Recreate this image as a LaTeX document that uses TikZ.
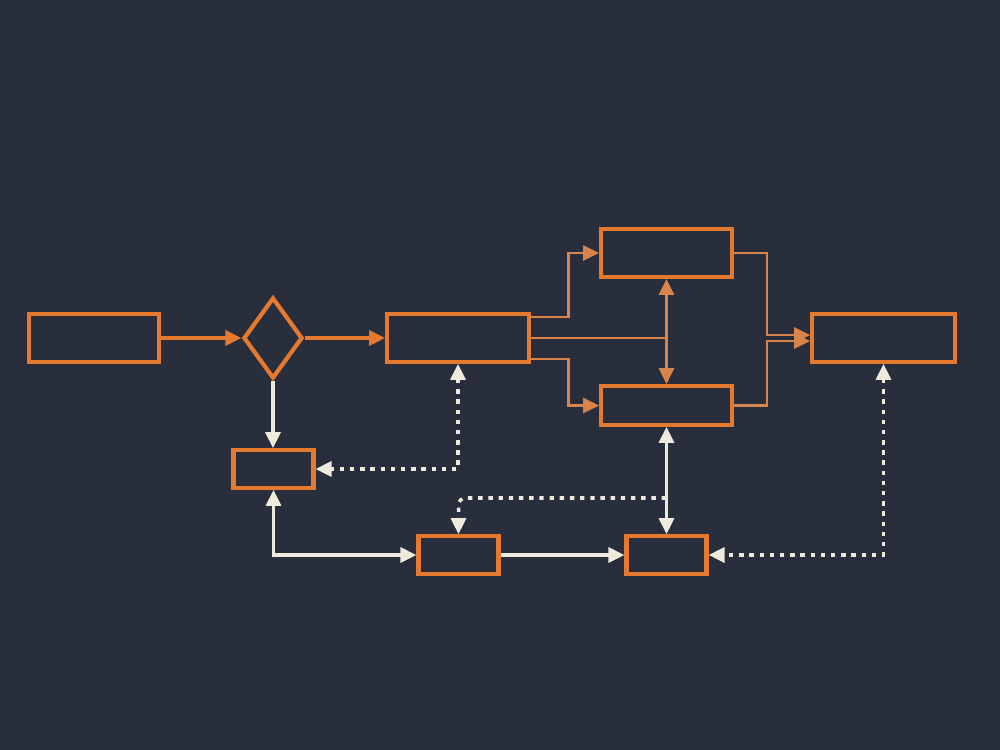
\documentclass[tikz,border=0pt]{standalone}
\usepackage{tikz}
\usetikzlibrary{arrows.meta,positioning,shapes.geometric,calc}

\definecolor{bgnavy}{HTML}{282E3C}
\definecolor{boxorange}{HTML}{E57A2E}
\definecolor{linkorange}{HTML}{D9844A}
\definecolor{linkcream}{HTML}{EEEBDC}

\begin{document}
\begin{tikzpicture}[
  x=0.02cm, y=-0.02cm,
  >={Triangle[length=3.2mm,width=3mm]},
  boxnode/.style={draw=boxorange,line width=2.4pt,minimum height=0.95cm,inner sep=0pt},
  smallbox/.style={boxnode,minimum width=1.6cm,minimum height=0.75cm},
  decnode/.style={draw=boxorange,diamond,line width=2.4pt,minimum width=1.18cm,minimum height=1.62cm,inner sep=0pt},
  orangelink/.style={draw=boxorange,line width=2pt},
  thinlink/.style={draw=linkorange,line width=1.6pt},
  creamlink/.style={draw=linkcream,line width=1.8pt},
  dotlink/.style={draw=linkcream,line width=2pt,dash pattern=on 2.5pt off 3.3pt}
]

\fill[bgnavy] (0,0) rectangle (1000,750);

% ---- main row ----
\node[boxnode,minimum width=2.59cm] (start) at (94,338) {};
\node[decnode] (choice) at (273,338) {};
\node[boxnode,minimum width=2.83cm] (split) at (458,338) {};
\node[boxnode,minimum width=2.61cm] (upper) at (666.5,253) {};
\node[boxnode,minimum width=2.61cm,minimum height=0.77cm] (lower) at (666.5,405.5) {};
\node[boxnode,minimum width=2.85cm] (merge) at (883.5,338) {};

% ---- bottom row ----
\node[smallbox] (side) at (273.5,469) {};
\node[smallbox] (relayA) at (458.5,555) {};
\node[smallbox] (relayB) at (666.5,555) {};

% ---- forward flow ----
\draw[orangelink,->] (start) -- (choice);
\draw[orangelink,->] (choice) -- (split);

\draw[thinlink,->] ([yshift=0.42cm]split.east) -- ++(38,0) |- (upper.west);
\draw[thinlink,->] ([yshift=-0.42cm]split.east) -- ++(38,0) |- (lower.west);
\coordinate (tapMid) at (split.east -| upper.south);
\draw[thinlink] (split.east) -- (tapMid);
\draw[thinlink,<->] (upper.south) -- (lower.north);

\coordinate (joinX) at (767,0);
\draw[thinlink,->] (upper.east) -- (upper.east -| joinX) |- ([yshift=0.06cm]merge.west);
\draw[thinlink,->] (lower.east) -- (lower.east -| joinX) |- ([yshift=-0.06cm]merge.west);

% ---- return paths ----
\draw[creamlink,->] (choice.south) -- (choice.south |- side.north);
\draw[creamlink,<->] (side.south) |- (relayA.west);
\draw[creamlink,->] (relayA) -- (relayB);
\draw[creamlink,<->] (lower.south) -- (relayB.north);

\draw[dotlink,<->] (split.south) |- (side.east);
\coordinate (tapDot) at (666,498);
\draw[dotlink,->,rounded corners=4pt] (tapDot) -| (relayA.north);
\draw[dotlink,<->] (merge.south) |- (relayB.east);

\end{tikzpicture}
\end{document}
